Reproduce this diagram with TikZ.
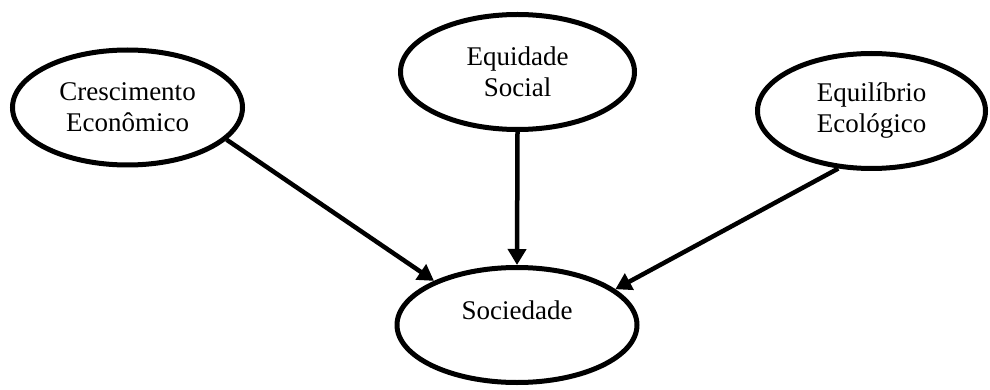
\documentclass[tikz,border=0pt]{standalone}
\usepackage{fontspec}
\setmainfont{Liberation Serif}
\usetikzlibrary{shapes.geometric,arrows.meta}
\begin{document}
\begin{tikzpicture}[x=1pt,y=-1pt,
  goal/.style={ellipse, draw, line width=5pt, inner sep=0pt,
    minimum width=#1, minimum height=115pt, align=center,
    font=\fontsize{27}{31}\selectfont},
  link/.style={line width=4.5pt, -{Triangle[width=18pt,length=16pt]}}]
\useasboundingbox (0,0) rectangle (990,390);

% pillars
\node[goal=230pt] (cre) at (127.5,107.5) {Crescimento\\Econômico};
\node[goal=234pt] (equ) at (517.5,72) {Equidade\\Social};
\node[goal=228pt] (eco) at (871.5,111) {Equilíbrio\\Ecológico};

% result
\node[goal=240pt, label={[name=soct, yshift=15pt, font=\fontsize{27}{31}\selectfont]center:Sociedade}] (soc) at (517,325) {};

% influences
\draw[link] (cre.-18) -- (soc.152);
\draw[link] (equ.south) -- (soc.north);
\draw[link] (eco.-120) -- (soc.20);
\end{tikzpicture}
\end{document}
